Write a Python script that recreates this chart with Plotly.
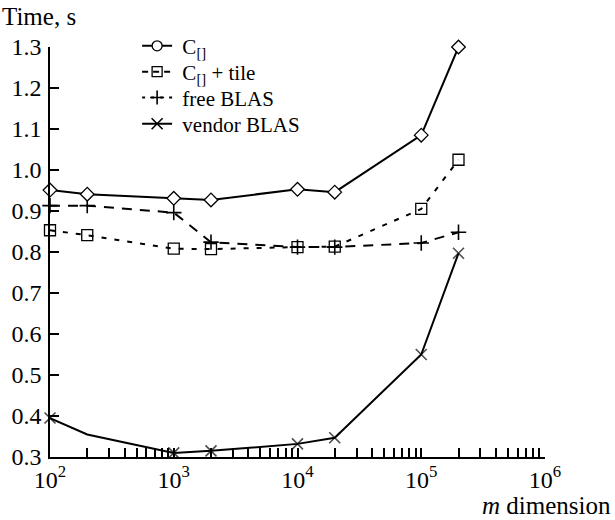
import plotly.graph_objects as go

m_dim = [100, 200, 1000, 2000, 10000, 20000, 100000, 200000]
c_plain = [0.951, 0.941, 0.931, 0.927, 0.953, 0.946, 1.085, 1.300]
c_tile = [0.853, 0.841, 0.808, 0.807, 0.812, 0.813, 0.905, 1.025]
free_blas = [0.913, 0.913, 0.896, 0.824, 0.812, 0.812, 0.822, 0.848]
vendor_blas = [0.395, 0.355, 0.310, 0.315, 0.332, 0.347, 0.550, 0.797]
vendor_marker_size = [11, 0, 11, 11, 11, 11, 11, 11]

names = ["\u00a0C<sub>[]</sub>", "\u00a0C<sub>[]</sub> + tile", "\u00a0free BLAS", "\u00a0vendor BLAS"]
y_ticks = [0.3, 0.4, 0.5, 0.6, 0.7, 0.8, 0.9, 1.0, 1.1, 1.2, 1.3]
y_ticktext = ["0.3", "0.4", "0.5", "0.6", "0.7", "0.8", "0.9", "1.0", "1.1", "1.2", "1.3"]
x_major = [100, 1000, 10000, 100000, 1000000]
x_major_text = ["10<sup>2</sup>", "10<sup>3</sup>", "10<sup>4</sup>", "10<sup>5</sup>", "10<sup>6</sup>"]

FONT = "Liberation Serif"
BLACK = "#000000"

fig = go.Figure()

# data traces
fig.add_trace(go.Scatter(x=m_dim, y=vendor_blas, mode="lines+markers", showlegend=False,
                         cliponaxis=False,
                         line=dict(color=BLACK, width=2),
                         marker=dict(symbol="x-thin-open", size=vendor_marker_size,
                                     line=dict(color=BLACK, width=1.6))))
fig.add_trace(go.Scatter(x=m_dim, y=free_blas, mode="lines+markers", showlegend=False,
                         cliponaxis=False,
                         line=dict(color=BLACK, width=2, dash="10px,8px"),
                         marker=dict(symbol="cross-thin-open", size=11,
                                     line=dict(color=BLACK, width=1.6))))
fig.add_trace(go.Scatter(x=m_dim, y=c_tile, mode="lines+markers", showlegend=False,
                         cliponaxis=False,
                         line=dict(color=BLACK, width=2, dash="5px,8px"),
                         marker=dict(symbol="square-open", size=11,
                                     line=dict(color=BLACK, width=1.3))))
fig.add_trace(go.Scatter(x=m_dim, y=c_plain, mode="lines+markers", showlegend=False,
                         cliponaxis=False,
                         line=dict(color=BLACK, width=2),
                         marker=dict(symbol="diamond", size=10.5, color="white",
                                     line=dict(color=BLACK, width=1.3))))

# legend entries, one legend per row for exact spacing
leg_styles = [
    dict(line=dict(color=BLACK, width=2), marker=dict(symbol="circle", size=10, color="white", line=dict(color=BLACK, width=1.3))),
    dict(line=dict(color=BLACK, width=2, dash="6px,5px"), marker=dict(symbol="square-open", size=10, line=dict(color=BLACK, width=1.3))),
    dict(line=dict(color=BLACK, width=2, dash="3px,6px"), marker=dict(symbol="cross-thin-open", size=10, line=dict(color=BLACK, width=1.6))),
    dict(line=dict(color=BLACK, width=2), marker=dict(symbol="x-thin-open", size=11, line=dict(color=BLACK, width=1.6))),
]
leg_ids = ["legend", "legend2", "legend3", "legend4"]
leg_y = [1.002, 0.939, 0.876, 0.812]
for nm, st, lid in zip(names, leg_styles, leg_ids):
    fig.add_trace(go.Scatter(x=[None], y=[None], mode="lines+markers", name=nm, legend=lid, **st))

leg_common = dict(x=0.176, xanchor="left", yanchor="middle",
                  font=dict(family=FONT, size=21), bgcolor="rgba(0,0,0,0)", itemwidth=30)
legend_layout = {lid: dict(y=ly, **leg_common) for lid, ly in zip(leg_ids, leg_y)}

fig.update_layout(
    width=615, height=520,
    margin=dict(l=50, r=70, t=47, b=63),
    paper_bgcolor="white", plot_bgcolor="white",
    font=dict(family=FONT, size=24, color=BLACK),
    showlegend=True,
    xaxis=dict(type="log", range=[2, 6], showgrid=False, zeroline=False, automargin=False,
               showline=True, linecolor=BLACK, linewidth=1.5,
               tickmode="array", tickvals=x_major, ticktext=x_major_text,
               ticks="inside", ticklen=9, tickwidth=1.5, tickcolor=BLACK,
               minor=dict(ticks="inside", ticklen=9, tickwidth=1.5, tickcolor=BLACK,
                          dtick="D1", showgrid=False),
               tickfont=dict(family=FONT, size=24), mirror=False),
    yaxis=dict(range=[0.3, 1.3], showgrid=False, zeroline=False, automargin=False,
               showline=True, linecolor=BLACK, linewidth=1.5,
               tickmode="array", tickvals=y_ticks, ticktext=y_ticktext,
               ticks="inside", ticklen=9, tickwidth=1.5, tickcolor=BLACK,
               ticklabelstandoff=2,
               tickfont=dict(family=FONT, size=24), mirror=False),
    annotations=[
        dict(text="Time, s", x=0, y=1, xref="paper", yref="paper", xanchor="left", yanchor="bottom",
             xshift=-50, yshift=15, showarrow=False, font=dict(family=FONT, size=25)),
        dict(text="<i>m</i> dimension", x=1, y=0, xref="paper", yref="paper", xanchor="right", yanchor="top",
             xshift=68, yshift=-33, showarrow=False, font=dict(family=FONT, size=25)),
    ],
    **legend_layout,
)

fig.write_html("out.html", config={"displayModeBar": False},
               post_script="document.body.style.margin='0';")
